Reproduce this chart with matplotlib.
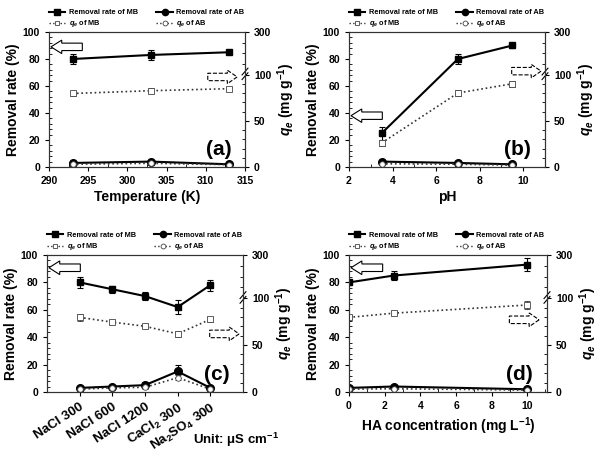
import numpy as np
import matplotlib
matplotlib.use("Agg")
import matplotlib.pyplot as plt
from matplotlib.patches import FancyArrow
from matplotlib.ticker import AutoMinorLocator, FixedLocator
from matplotlib.lines import Line2D

plt.rcParams['font.family'] = ['Liberation Sans', 'DejaVu Sans']
plt.rcParams['font.weight'] = 'bold'
plt.rcParams['axes.labelweight'] = 'bold'
plt.rcParams['mathtext.fontset'] = 'custom'
plt.rcParams['mathtext.rm'] = 'Liberation Sans:bold'
plt.rcParams['mathtext.it'] = 'Liberation Sans:italic:bold'
plt.rcParams['mathtext.bf'] = 'Liberation Sans:bold'

# ---- data ----
temp_x = [293, 303, 313]
temp_mb = [80, 83, 85]
temp_mb_err = [4, 3.5, 1]
temp_ab = [3, 4, 2]
temp_ab_err = [1, 1, 0.5]
temp_qmb = [79.5, 82.5, 84.7]
temp_qmb_err = [3, 3, 1.5]
temp_qab = [3, 4, 2.5]
temp_qab_err = [1, 1, 0.5]

ph_x = [3.5, 7, 9.5]
ph_mb = [25, 80, 90]
ph_mb_err = [5, 4, 2]
ph_ab = [4, 3, 2]
ph_ab_err = [1, 1, 0.5]
ph_qmb = [26, 80, 90]
ph_qmb_err = [3, 3, 3]
ph_qab = [3.5, 3, 2]
ph_qab_err = [1, 1, 0.5]

salt_labels = ['NaCl 300', 'NaCl 600', 'NaCl 1200', 'CaCl$_2$ 300', 'Na$_2$SO$_4$ 300']
salt_mb = [80, 75, 70, 62, 78]
salt_mb_err = [4, 2.5, 3, 5, 4]
salt_ab = [3, 4, 5, 15, 3]
salt_ab_err = [1, 1, 2, 5, 1]
salt_qmb = [79.5, 74.5, 70, 62, 77.4]
salt_qmb_err = [4, 2, 2, 3, 3]
salt_qab = [3, 4.4, 5, 15.3, 3]
salt_qab_err = [1, 1, 1.5, 3, 1]

ha_x = [0, 2.5, 10]
ha_mb = [80, 85, 93]
ha_mb_err = [2, 3, 5]
ha_ab = [3, 4, 2]
ha_ab_err = [1, 1, 0.5]
ha_qmb = [79.5, 84, 92.7]
ha_qmb_err = [2, 2, 4]
ha_qab = [3, 3.5, 2]
ha_qab_err = [1, 1, 0.5]

right_ticks = [0, 50, 100, 300]
left_ticks = [0, 20, 40, 60, 80, 100]

# ---- broken right scale ----
A = 0.685
B = (1 - A) / 2.0

def fwd(v):
    v = np.asarray(v, dtype=float)
    return np.where(v <= 100, v * A, 100 * A + (v - 100) * B)

def inv(u):
    u = np.asarray(u, dtype=float)
    return np.where(u <= 100 * A, u / A, 100 + (u - 100 * A) / B)

W, H = 603, 458
fig = plt.figure(figsize=(W / 100, H / 100), dpi=100)

def pos(x0, x1, y0, y1):
    return [x0 / W, 1 - y1 / H, (x1 - x0) / W, (y1 - y0) / H]

panels = [
    dict(rect=pos(49, 245, 32, 167), x=temp_x, mb=temp_mb, mbe=temp_mb_err, ab=temp_ab, abe=temp_ab_err,
         qmb=temp_qmb, qmbe=temp_qmb_err, qab=temp_qab, qabe=temp_qab_err,
         xlim=(290, 315), xticks=[290, 295, 300, 305, 310, 315], xlabel='Temperature (K)', tag='(a)',
         arrL=0.89, arrR=(0.81, 0.667)),
    dict(rect=pos(349, 545, 32, 167), x=ph_x, mb=ph_mb, mbe=ph_mb_err, ab=ph_ab, abe=ph_ab_err,
         qmb=ph_qmb, qmbe=ph_qmb_err, qab=ph_qab, qabe=ph_qab_err,
         xlim=(2, 11), xticks=[2, 4, 6, 8, 10], xlabel='pH', tag='(b)',
         arrL=0.38, arrR=(0.83, 0.71)),
    dict(rect=pos(47, 243, 255, 392), x=[1, 2, 3, 4, 5], mb=salt_mb, mbe=salt_mb_err, ab=salt_ab, abe=salt_ab_err,
         qmb=salt_qmb, qmbe=salt_qmb_err, qab=salt_qab, qabe=salt_qab_err,
         xlim=(0, 6), xticks=[1, 2, 3, 4, 5], xlabel=None, tag='(c)',
         arrL=0.907, arrR=(0.83, 0.424)),
    dict(rect=pos(349, 547, 255, 392), x=ha_x, mb=ha_mb, mbe=ha_mb_err, ab=ha_ab, abe=ha_ab_err,
         qmb=ha_qmb, qmbe=ha_qmb_err, qab=ha_qab, qabe=ha_qab_err,
         xlim=(0, 11.1), xticks=[0, 2, 4, 6, 8, 10], xlabel='HA concentration (mg L$^{-1}$)', tag='(d)',
         arrL=0.907, arrR=(0.81, 0.527)),
]

for p in panels:
    ax = fig.add_axes(p['rect'])
    ax2 = ax.twinx()
    ax2.set_yscale('function', functions=(fwd, inv))

    ax.errorbar(p['x'], p['mb'], yerr=p['mbe'], color='black', lw=1.5, marker='s', ms=5,
                capsize=2, elinewidth=0.8, capthick=0.8, zorder=5)
    ax.errorbar(p['x'], p['ab'], yerr=p['abe'], color='black', lw=1.5, marker='o', ms=5.5,
                capsize=2, elinewidth=0.8, capthick=0.8, zorder=5)
    ax2.errorbar(p['x'], p['qmb'], yerr=p['qmbe'], color='#333333', lw=1.2, ls=':', marker='s', ms=4,
                 mfc='white', mec='#444444', mew=0.6, capsize=2, elinewidth=0.7, capthick=0.7)
    ax2.errorbar(p['x'], p['qab'], yerr=p['qabe'], color='#333333', lw=1.2, ls=':', marker='o', ms=4,
                 mfc='white', mec='#444444', mew=0.6, capsize=2, elinewidth=0.7, capthick=0.7)

    ax.set_xlim(*p['xlim'])
    ax.set_ylim(0, 100)
    ax2.set_ylim(0, 300)
    ax.set_yticks(left_ticks)
    ax2.set_yticks(right_ticks)
    ax2.yaxis.set_minor_locator(FixedLocator([10, 20, 30, 40, 60, 70, 80, 90, 150, 200, 250]))
    ax.yaxis.set_minor_locator(AutoMinorLocator(5))
    ax.set_xticks(p['xticks'])
    if p['xlabel'] is not None:
        ax.xaxis.set_minor_locator(AutoMinorLocator(2))
    for a in (ax, ax2):
        a.tick_params(which='major', direction='out', length=3, width=0.8, labelsize=7.5)
        a.tick_params(which='minor', direction='in', length=2, width=0.6)
        for s in a.spines.values():
            s.set_linewidth(0.8)
            s.set_color('#333333')
    ax.set_ylabel('Removal rate (%)', fontsize=10, labelpad=2)
    ax2.set_ylabel(r'$q_e$ (mg g$^{-1}$)', fontsize=10, labelpad=3)
    if p['xlabel'] is not None:
        ax.set_xlabel(p['xlabel'], fontsize=10, labelpad=3)
    else:
        ax.set_xticklabels(salt_labels, rotation=33, ha='right', rotation_mode='anchor', fontsize=9.5)

    ax.text(0.93, 0.13, p['tag'], transform=ax.transAxes, fontsize=15, fontweight='bold',
            ha='right', va='center')

    # hollow left arrow
    ax.add_patch(FancyArrow(0.17, p['arrL'], -0.16, 0, width=0.055, head_width=0.1, head_length=0.055,
                            length_includes_head=True, transform=ax.transAxes, fc='white', ec='black',
                            lw=0.8, clip_on=False, zorder=6))
    # dashed right arrow
    xr, yr = p['arrR']
    ax.add_patch(FancyArrow(xr, yr, 0.15, 0, width=0.055, head_width=0.1, head_length=0.05,
                            length_includes_head=True, transform=ax.transAxes, fc='none', ec='black',
                            lw=0.8, ls='--', clip_on=False, zorder=6))
    # break marks on right spine at 100
    yb = 0.685
    for dy in (-0.012, 0.022):
        ax.plot([0.985, 1.015], [yb + dy - 0.025, yb + dy + 0.025], transform=ax.transAxes,
                color='black', lw=0.8, clip_on=False, zorder=7)

    handles = [
        Line2D([], [], color='black', lw=1.5, marker='s', ms=4),
        Line2D([], [], color='#333333', lw=1.0, ls=':', marker='s', ms=3.5, mfc='white', mec='#444444', mew=0.6),
        Line2D([], [], color='black', lw=1.5, marker='o', ms=4.5),
        Line2D([], [], color='#333333', lw=1.0, ls=':', marker='o', ms=3.5, mfc='white', mec='#444444', mew=0.6),
    ]
    labels = ['Removal rate of MB', r'$q_e$ of MB', 'Removal rate of AB', r'$q_e$ of AB']
    ax.legend(handles, labels, loc='lower left', bbox_to_anchor=(0.0, 1.02), ncol=2, frameon=False,
              fontsize=5.3, handlelength=2.2, handletextpad=0.5, columnspacing=2.5, labelspacing=0.3,
              borderaxespad=0, borderpad=0)

fig.text(193 / W, 1 - 440 / H, 'Unit: μS cm$^{-1}$', fontsize=9.5, fontweight='bold', va='center', ha='left')

fig.savefig('out.png', dpi=100)
